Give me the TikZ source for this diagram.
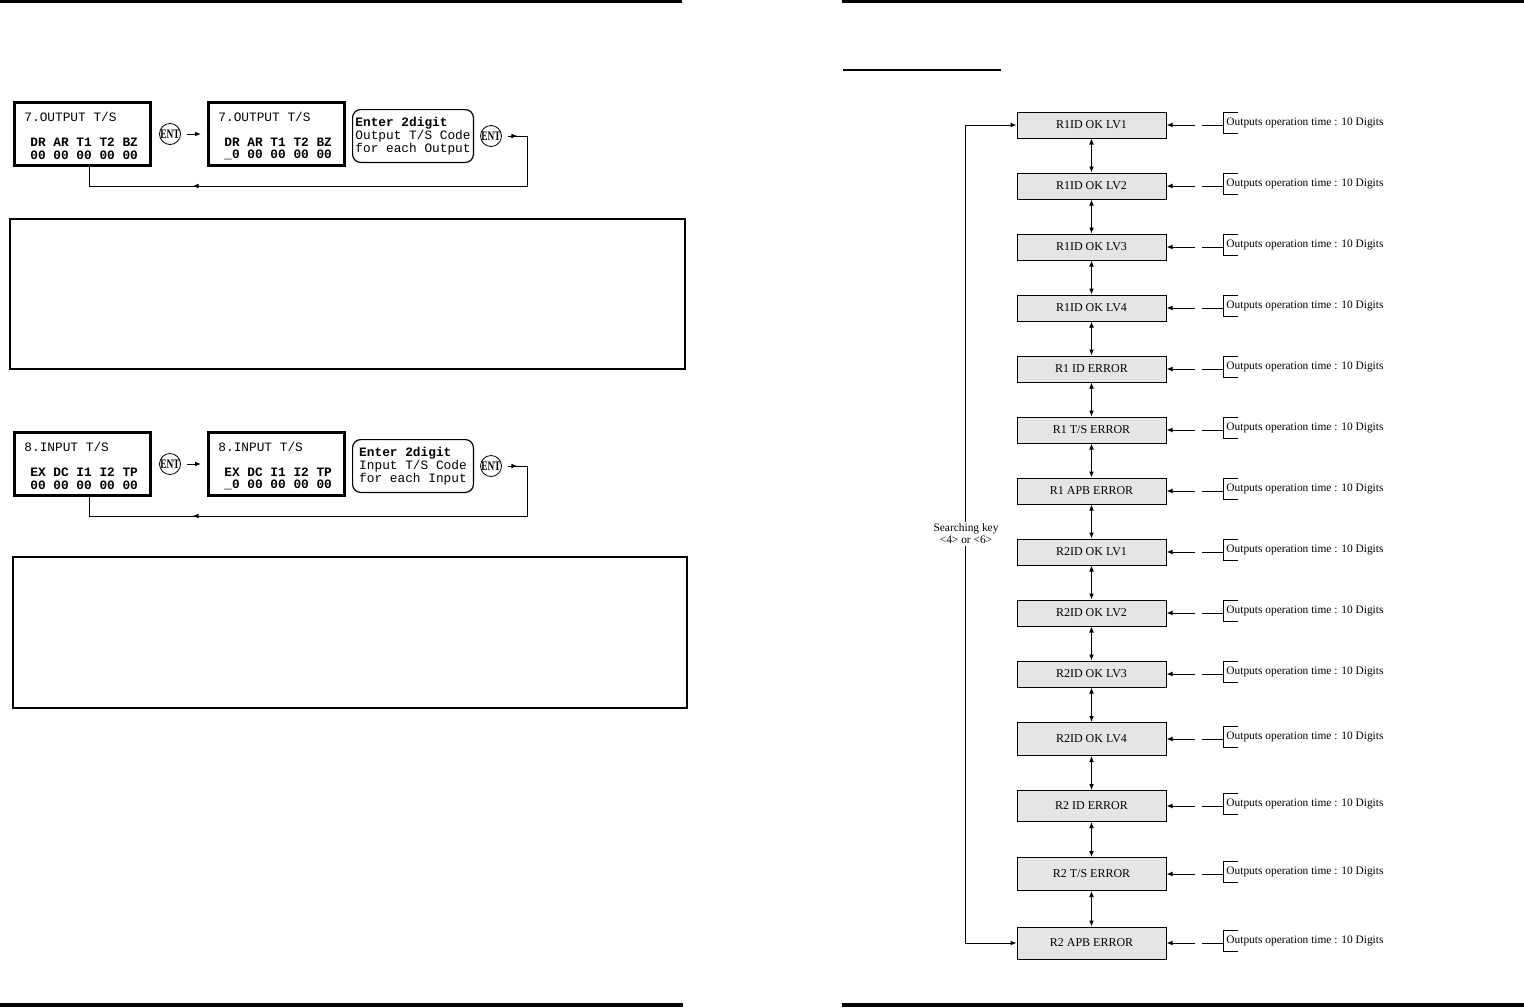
\documentclass[tikz,border=0pt]{standalone}
\usepackage{fontspec}
\usepackage{graphicx}
\setmainfont{Liberation Serif}
\newfontfamily\monofnt{Liberation Mono}
\usetikzlibrary{arrows.meta,decorations.markings,calc}
\newcommand\lcdf{\monofnt\fontsize{6.4pt}{6.5pt}\selectfont}
\newcommand\boxf{\fontsize{6pt}{7pt}\selectfont}
\newcommand\smallf{\fontsize{5.7pt}{6pt}\selectfont}
\newcommand\entlabel{\fontsize{6.5pt}{7pt}\selectfont\bfseries\scalebox{0.72}[1]{ENT}}
\tikzset{
  lcd/.style={draw, line width=1.5pt, minimum width=68pt, minimum height=31.5pt, inner sep=0pt},
  lcdtxt/.style={anchor=west, inner sep=0pt, font=\lcdf},
  inst/.style={draw, line width=0.6pt, rounded corners=4pt, minimum width=60.4pt, minimum height=26.4pt, align=left, inner sep=0pt, font=\lcdf},
  entbtn/.style={circle, draw, line width=0.4pt, minimum size=10.5pt, inner sep=0pt},
  arr/.style={-{Latex[length=3pt,width=2.4pt]}, line width=0.5pt},
  darr/.style={{Latex[length=3pt,width=2.4pt]}-{Latex[length=3pt,width=2.4pt]}, line width=0.5pt},
  sbox/.style={draw, line width=0.5pt, fill=black!10, minimum width=74.5pt, inner sep=0pt, font=\boxf},
  otxt/.style={anchor=west, inner sep=0pt, font=\smallf},
  thinline/.style={line width=0.5pt},
}
% panel: #1 prefix, #2 dy, #3 title, #4 labels, #5-#7 instruction lines
\newcommand{\tspanel}[7]{%
  \node[lcd] (#1a) at (82.5,{134+#2}) {};
  \node[lcdtxt] (#1at) at (24,{117+#2}) {#3};
  \node[lcdtxt] (#1al) at (30,{142+#2}) {\bfseries #4};
  \node[lcdtxt] (#1av) at (30,{155+#2}) {\bfseries 00 00 00 00 00};
  \node[entbtn] (#1e1) at (170,{134+#2}) {\entlabel};
  \node[lcd] (#1b) at (276.5,{134+#2}) {};
  \node[lcdtxt] (#1bt) at (218,{117+#2}) {#3};
  \node[lcdtxt] (#1bl) at (224,{142+#2}) {\bfseries #4};
  \node[lcdtxt] (#1bv) at (224,{155+#2}) {\bfseries \_0 00 00 00 00};
  \node[inst] (#1c) at (413,{136+#2}) {\textbf{#5}\\#6\\#7};
  \node[entbtn] (#1e2) at (491,{136+#2}) {\entlabel};
  \draw[arr, shorten <=3pt, shorten >=3pt] (#1e1.east) -- (#1b.west);
  \coordinate (#1r1) at (527,{136+#2});
  \coordinate (#1r2) at (89,{186+#2});
  \draw[thinline, postaction={decorate}, decoration={markings,
      mark=at position 4.75pt with {\arrow{Latex[length=3pt,width=2.4pt]}},
      mark=at position 201.75pt with {\arrow{Latex[length=3pt,width=2.4pt]}}}]
    ([xshift=3pt]#1e2.east) -- (#1r1) |- (#1r2) -- (#1r2 |- #1a.south);
}
\begin{document}
\begin{tikzpicture}[x=0.5pt,y=-0.5pt]
\useasboundingbox (0,0) rectangle (1524,1007);
% page rules
\fill (0,0) rectangle (682,3);
\fill (842,0) rectangle (1524,3);
\fill (0,1003) rectangle (683,1007);
\fill (842,1003) rectangle (1524,1007);
\draw[line width=0.6pt] (843,70) -- (1001,70);

% left panels
\tspanel{p}{0}{7.OUTPUT T/S}{DR AR T1 T2 BZ}{Enter 2digit}{Output T/S Code}{for each Output}
\draw[line width=0.75pt] (10,219) rectangle (685,369);
\tspanel{q}{330}{8.INPUT T/S}{EX DC I1 I2 TP}{Enter 2digit}{Input T/S Code}{for each Input}
\draw[line width=0.75pt] (13,557) rectangle (687,708);

% right chain
\foreach \c/\h/\t [count=\i] in {125/27/{R1ID OK LV1},186/27/{R1ID OK LV2},247/27/{R1ID OK LV3},308/27/{R1ID OK LV4},369/27/{R1 ID ERROR},430/27/{R1 T/S ERROR},491/27/{R1 APB ERROR},552/27/{R2ID OK LV1},613/27/{R2ID OK LV2},674/27/{R2ID OK LV3},739/34/{R2ID OK LV4},806/32/{R2 ID ERROR},874/34/{R2 T/S ERROR},943/33/{R2 APB ERROR}}{
  \node[sbox, minimum height=\h*0.5pt-0.5pt] (b\i) at (1091.5,\c) {\t};
  \coordinate (in\i) at (1195,\c);
  \draw[arr] (in\i) -- (b\i.east);
  \coordinate (br\i) at (1223,\c);
  \coordinate (bs\i) at (1202,\c);
  \draw[thinline] (br\i) -- (bs\i);
  \draw[thinline] (1238,{\c-13}) -- (1223,{\c-13}) -- (1223,{\c+8}) -- (1238,{\c+8});
  \node[otxt] (o\i) at (1226,{\c-2}) {Outputs operation time : 10 Digits};
}
\foreach \i [evaluate=\i as \j using int(\i+1)] in {1,...,13}{
  \draw[darr] (b\i.south) -- (b\j.north);
}
\coordinate (lx) at (965,0);
\draw[darr] (b1.west) -- (b1.west -| lx) -- (b14.west -| lx) -- (b14.west);
\node[fill=white, align=center, font=\smallf, inner sep=1pt] (skey) at (966,534) {Searching key\\<4> or <6>};
\end{tikzpicture}
\end{document}
